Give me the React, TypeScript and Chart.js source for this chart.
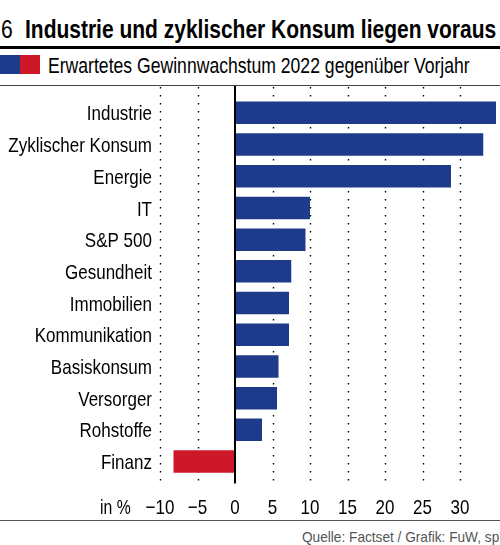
import { useEffect, useRef } from 'react'
import { Chart, registerables } from 'chart.js'

Chart.register(...registerables)

// no narrow font installed: use Liberation Sans squeezed horizontally
const SANS = '"Liberation Sans", Arial, sans-serif'

const categories = [
  'Industrie', 'Zyklischer Konsum', 'Energie', 'IT', 'S&P 500', 'Gesundheit',
  'Immobilien', 'Kommunikation', 'Basiskonsum', 'Versorger', 'Rohstoffe', 'Finanz'
]
const growth = [34.8, 33.1, 28.8, 10.0, 9.4, 7.5, 7.2, 7.2, 5.8, 5.6, 3.6, -8.2]
const xMin = -10
const xMax = 35
const xStep = 5
const lastLabel = 30

const BLUE = '#1e3a8a'
const RED = '#cc1829'

const tickText = (v: number) => (v < 0 ? '\u2212' + Math.abs(v) : String(v))

// dotted verticals + solid zero line, reaching a bit past the plot area
const gridPlugin = {
  id: 'fuwGrid',
  beforeDatasetsDraw(chart: Chart) {
    const { ctx, chartArea } = chart
    const x = chart.scales.x
    ctx.save()
    ctx.strokeStyle = '#000'
    ctx.lineWidth = 1.4
    ctx.setLineDash([1.4, 6.6])
    x.ticks.forEach(t => {
      if (t.value === 0 || t.value > lastLabel) return
      const px = Math.round(x.getPixelForValue(t.value)) + 0.5
      ctx.beginPath()
      ctx.moveTo(px, 1)
      ctx.lineTo(px, chartArea.bottom + 6)
      ctx.stroke()
    })
    ctx.restore()
  },
  afterDatasetsDraw(chart: Chart) {
    const { ctx, chartArea } = chart
    const x = chart.scales.x
    const y = chart.scales.y
    const px = x.getPixelForValue(0)
    ctx.save()
    ctx.strokeStyle = '#000'
    ctx.lineWidth = 2
    ctx.beginPath()
    ctx.moveTo(px, 0)
    ctx.lineTo(px, chartArea.bottom + 6)
    ctx.stroke()

    // condensed labels
    ctx.fillStyle = '#000'
    ctx.font = `21px ${SANS}`
    ctx.textAlign = 'right'
    ctx.textBaseline = 'alphabetic'
    y.ticks.forEach((_t, i) => {
      ctx.save()
      ctx.translate(chartArea.left - 8, y.getPixelForTick(i) + 7.6)
      ctx.scale(0.81, 1)
      ctx.fillText(String(chart.data.labels![i]), 0, 0)
      ctx.restore()
    })
    ctx.textAlign = 'center'
    x.ticks.forEach(t => {
      if (t.value > lastLabel) return
      ctx.save()
      ctx.translate(x.getPixelForValue(t.value), chartArea.bottom + 36.6)
      ctx.scale(0.81, 1)
      ctx.fillText(tickText(t.value), 0, 0)
      ctx.restore()
    })
    ctx.restore()
  }
}

function GrowthChart() {
  const canvasRef = useRef<HTMLCanvasElement>(null)
  const chartRef = useRef<Chart | null>(null)

  useEffect(() => {
    if (!canvasRef.current) return
    chartRef.current?.destroy()
    chartRef.current = new Chart(canvasRef.current, {
      type: 'bar',
      data: {
        labels: categories,
        datasets: [{
          data: growth,
          backgroundColor: growth.map(v => (v < 0 ? RED : BLUE)),
          borderWidth: 0,
          barPercentage: 0.71,
          categoryPercentage: 1
        }]
      },
      options: {
        indexAxis: 'y',
        animation: false,
        responsive: false,
        layout: { padding: { top: 11, right: 2.5, bottom: 0, left: 0 } },
        plugins: { legend: { display: false }, tooltip: { enabled: false } },
        scales: {
          x: {
            min: xMin,
            max: xMax,
            grid: { display: false },
            border: { display: false },
            afterFit: (s: any) => { s.height = 42.6 },
            ticks: { stepSize: xStep, display: false }
          },
          y: {
            grid: { display: false },
            border: { display: false },
            afterFit: (s: any) => { s.width = 160 },
            ticks: { display: false }
          }
        }
      },
      plugins: [gridPlugin]
    })
    return () => { chartRef.current?.destroy() }
  }, [])

  return <canvas ref={canvasRef} width={500} height={434} style={{ display: 'block' }} />
}

function Squeezed({ left, top, size, scale, bold, color, children }: any) {
  return (
    <div style={{
      position: 'absolute', left, top, fontSize: size, lineHeight: 1, whiteSpace: 'nowrap',
      fontWeight: bold ? 700 : 400, color: color || '#000',
      transform: `scaleX(${scale})`, transformOrigin: 'left top'
    }}>{children}</div>
  )
}

export default function App() {
  return (
    <div style={{ position: 'absolute', left: 0, top: 0, width: 500, height: 545, background: '#fff', overflow: 'hidden', fontFamily: SANS }}>
      <Squeezed left={1} top={16.6} size={25.6} scale={0.82}>6</Squeezed>
      <Squeezed left={25} top={16.6} size={25.6} scale={0.82} bold>Industrie und zyklischer Konsum liegen voraus</Squeezed>
      <div style={{ position: 'absolute', left: 0, top: 46, width: 500, height: 2.5, background: '#000' }} />
      <div style={{ position: 'absolute', left: 0, top: 55, width: 20, height: 19, background: BLUE }} />
      <div style={{ position: 'absolute', left: 20, top: 55, width: 20, height: 19, background: RED }} />
      <Squeezed left={48} top={55.4} size={22} scale={0.8}>Erwartetes Gewinnwachstum 2022 gegenüber Vorjahr</Squeezed>
      <div style={{ position: 'absolute', left: 0, top: 85, width: 500, height: 1, background: '#444' }} />
      <div style={{ position: 'absolute', left: 0, top: 86 }}>
        <GrowthChart />
      </div>
      <Squeezed left={100} top={496.2} size={21} scale={0.75}>in %</Squeezed>
      <div style={{ position: 'absolute', left: 0, top: 520, width: 500, height: 1, background: '#555' }} />
      <Squeezed left={301.5} top={529} size={15} scale={0.91} color="#555">Quelle: Factset / Grafik: FuW, sp</Squeezed>
    </div>
  )
}
